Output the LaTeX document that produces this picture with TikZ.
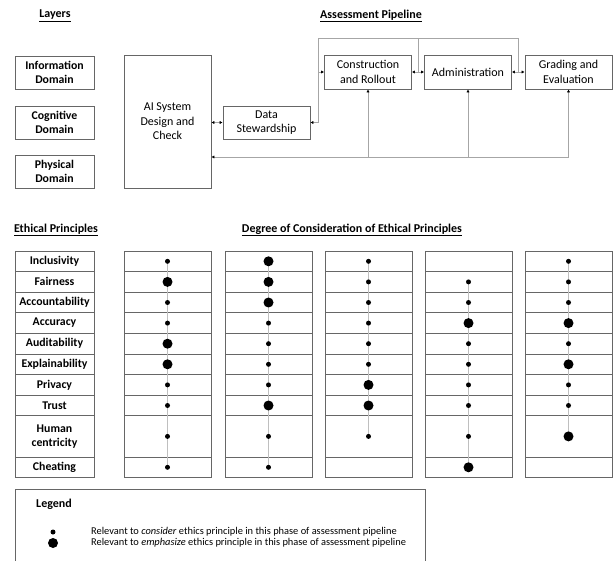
\documentclass[tikz,border=0pt]{standalone}
\usepackage{fontspec}
\setmainfont{Carlito}
\usetikzlibrary{arrows.meta}

\begin{document}
\begin{tikzpicture}[x=1pt,y=-1pt]
\tikzset{box/.style={draw=black!60, line width=0.7pt, align=center, inner sep=0pt, font=\fontsize{12}{14.5}\selectfont}}
\tikzset{layer/.style={box, minimum width=79pt, minimum height=33pt, font=\bfseries\fontsize{11.8}{14}\selectfont}}
\tikzset{stage/.style={box, minimum width=87pt, minimum height=34pt}}
\tikzset{heading/.style={inner sep=0pt, font=\bfseries\fontsize{12}{14}\selectfont}}
\tikzset{principle/.style={box, minimum width=79pt, font=\bfseries\fontsize{11.8}{14}\selectfont}}
\tikzset{cell/.style={draw=black!60, line width=0.7pt, minimum width=87pt, inner sep=0pt}}
\tikzset{consider/.style={circle, fill=black, inner sep=0pt, minimum size=5pt}}
\tikzset{emphasize/.style={circle, fill=black, inner sep=0pt, minimum size=10pt}}
\tikzset{flow/.style={draw=black!35, line width=0.7pt, >={Latex[length=3pt,width=3.2pt,color=black]}}}
\tikzset{spine/.style={draw=black!25, line width=0.6pt}}
\tikzset{note/.style={inner sep=0pt, font=\fontsize{10.4}{12}\selectfont}}
\useasboundingbox (0,0) rectangle (613,561);

% layers and pipeline
\node[heading] (layers) at (55,16) {\underline{Layers}};
\node[heading] (pipeline) at (371,16) {\underline{Assessment Pipeline}};
\node[layer] (info) at (54.5,72.5) {Information\\Domain};
\node[layer] (cog) at (54.5,122.5) {Cognitive\\Domain};
\node[layer] (phys) at (54.5,171.5) {Physical\\Domain};

\node[stage, minimum height=133pt] (ai) at (167.5,121.5) {AI System\\Design and\\Check};
\node[stage, minimum height=33pt] (ds) at (266.5,122.5) {Data\\Stewardship};
\node[stage] (cr) at (368,72) {Construction\\and Rollout};
\node[stage] (adm) at (468,72) {Administration};
\node[stage] (ge) at (568.5,72) {Grading and\\Evaluation};

\coordinate (top) at (0,38);
\coordinate (j1) at (318,72);
\coordinate (j2) at (418,72);
\coordinate (j3) at (518,72);
\coordinate (fb) at (568.5,157);

\draw[flow,<->] (ds.west -| ai.east) -- (ds.west);
\draw[flow,->] (j1) -- (cr.west);
\draw[flow,<->] (cr) -- (adm);
\draw[flow,<->] (adm) -- (ge);
\draw[flow,->] (j3) -- (j3 |- top) -- (j1 |- top) -- (j1 |- ds.east) -- (ds.east);
\draw[flow] (j2) -- (j2 |- top);
\draw[flow,->] (fb) -- (fb -| ai.east);
\draw[flow,->] (fb) -- (ge.south);
\draw[flow,->] (fb -| adm) -- (adm.south);
\draw[flow,->] (fb -| cr) -- (cr.south);

% ethical principles
\node[heading] (ethics) at (56,230) {\underline{Ethical Principles}};
\node[heading] (degree) at (352,230) {\underline{Degree of Consideration of Ethical Principles}};

\foreach \i/\txt/\yc/\h in {1/Inclusivity/261.3/20.6, 2/Fairness/281.9/20.6, 3/Accountability/302.5/20.6,
    4/Accuracy/323.1/20.6, 5/Auditability/343.7/20.6, 6/Explainability/364.3/20.6, 7/Privacy/384.9/20.6,
    8/Trust/405.5/20.6, 9/{Human\\centricity}/436.4/41.2, 10/Cheating/467.3/20.6} {
  \node[principle, minimum height=\h pt] (pr\i) at (54.5,\yc) {\txt};
  \foreach \c/\cx in {1/167.5, 2/268.5, 3/368.5, 4/468.5, 5/568.5}
    \node[cell, minimum height=\h pt] (c\c-\i) at (\cx,\yc) {};
}

\foreach \c/\first/\last in {1/1/10, 2/1/10, 3/1/9, 4/2/10, 5/1/9}
  \draw[spine] (c\c-\first.center) -- (c\c-\last.center);

\foreach \c/\marks in {
    1/{1/consider,2/emphasize,3/consider,4/consider,5/emphasize,6/emphasize,7/consider,8/consider,9/consider,10/consider},
    2/{1/emphasize,2/emphasize,3/emphasize,4/consider,5/consider,6/consider,7/consider,8/emphasize,9/consider,10/consider},
    3/{1/consider,2/consider,3/consider,4/consider,5/consider,6/consider,7/emphasize,8/emphasize,9/consider},
    4/{2/consider,3/consider,4/emphasize,5/consider,6/consider,7/consider,8/consider,9/consider,10/emphasize},
    5/{1/consider,2/consider,3/consider,4/emphasize,5/consider,6/emphasize,7/consider,8/consider,9/emphasize}}
  \foreach \r/\kind in \marks
    \node[\kind] (d\c-\r) at (c\c-\r) {};

% legend
\draw[draw=black!60, line width=0.7pt] (15,562) -- (15,489) -- (425,489) -- (425,562);
\node[heading, anchor=west] (legend) at (36,504) {Legend};
\node[consider] (lc) at (53,532) {};
\node[emphasize] (le) at (53,543) {};
\node[note, anchor=west] (lctext) at (91,532) {Relevant to \emph{consider} ethics principle in this phase of assessment pipeline};
\node[note, anchor=west] (letext) at (91,543) {Relevant to \emph{emphasize} ethics principle in this phase of assessment pipeline};
\end{tikzpicture}
\end{document}
